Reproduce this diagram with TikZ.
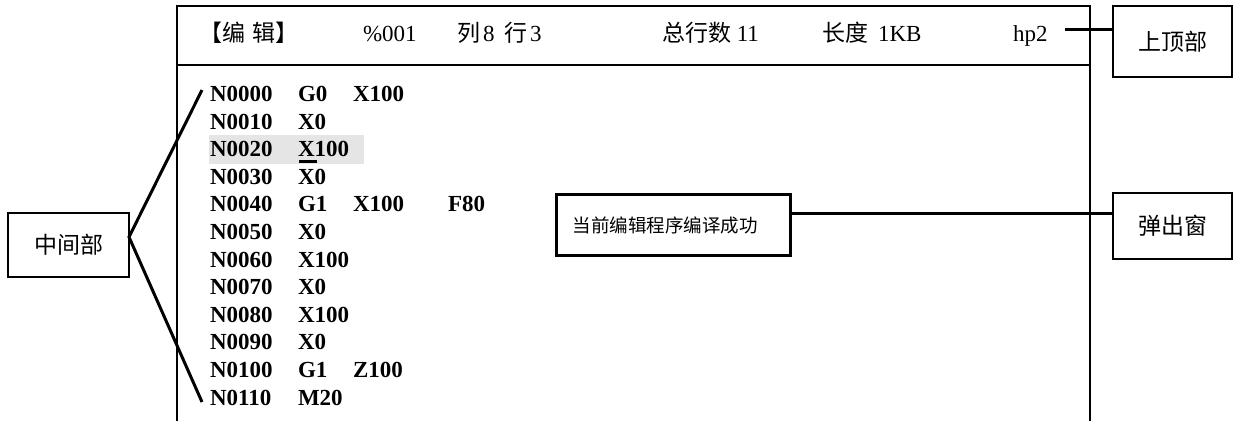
\documentclass[tikz,border=0pt]{standalone}
\usepackage{fontspec}
\setmainfont{Liberation Serif}
\newfontfamily\cjk{Noto Sans CJK SC}
\begin{document}
\begin{tikzpicture}[x=1pt,y=-1pt,
  every node/.style={inner sep=0pt,outer sep=0pt},
  frameline/.style={line width=1.5pt},
  link/.style={line width=3pt},
  hdr/.style={anchor=base west,font=\fontsize{23}{27}\selectfont},
  codetxt/.style={anchor=base west,font=\fontsize{23}{27}\selectfont\bfseries},
  labelbox/.style={draw,line width=1.5pt,font=\cjk\fontsize{23}{27}\selectfont},
  popupbox/.style={draw,line width=3pt,anchor=north west,font=\cjk\fontsize{18.5}{22}\selectfont,
     inner xsep=16pt,text width=202pt,align=left,minimum height=61pt}]
\useasboundingbox (0,0) rectangle (1233,421);
% highlight of current line
\fill[black!10] (209,135) rectangle (364,164);
% frame of the screen
\draw[frameline] (177,421) -- (177,6) -- (1090,6) -- (1090,421);
\draw[frameline] (177,65) -- (1090,65);
% header texts
\node[hdr] (h1) at (199,41) {\cjk 【编\hspace{8pt}辑】};
\node[hdr] (h2) at (363,41) {\%001};
\node[hdr] (h3) at (457,41) {{\cjk 列}\hspace{3pt}8};
\node[hdr] (h4) at (504,41) {{\cjk 行}\hspace{3pt}3};
\node[hdr] (h5) at (662,41) {{\cjk 总行数} 11};
\node[hdr] (h6) at (822,41) {{\cjk 长度}\hspace{10pt}1KB};
\node[hdr] (h7) at (1013,41) {hp2};
% code lines
\foreach \i/\n/\g in {0/N0000/G0,1/N0010/X0,2/N0020/X100,3/N0030/X0,4/N0040/G1,5/N0050/X0,
  6/N0060/X100,7/N0070/X0,8/N0080/X100,9/N0090/X0,10/N0100/G1,11/N0110/M20}{
  \node[codetxt] (n\i) at (210,101.5+27.6*\i) {\n};
  \node[codetxt] (g\i) at (298,101.5+27.6*\i) {\g};
}
\node[codetxt] (x0) at (353,101.5) {X100};
\node[codetxt] (x4) at (353,211.9) {X100};
\node[codetxt] (f4) at (448,211.9) {F80};
\node[codetxt] (z10) at (353,377.5) {Z100};
\fill (299,159.5) rectangle (316.5,163);
% labels
\node[labelbox,minimum width=121pt,minimum height=64pt] (mid) at (68.5,245) {中间部};
\node[labelbox,minimum width=119pt,minimum height=71pt] (top) at (1172.5,41.5) {上顶部};
\node[labelbox,minimum width=119pt,minimum height=66pt] (win) at (1172.5,226) {弹出窗};
\node[popupbox] (pop) at (556.5,194.5) {当前编辑程序编译成功};
% connectors
\coordinate (hpend) at (1065,29);
\draw[link] (hpend) -- (hpend -| top.west);
\coordinate (pc) at (pop.east |- 0,213);
\draw[link] (pc) -- (pc -| win.west);
\coordinate (mj) at (mid.east |- 0,237);
\coordinate (mt) at (202,90);
\coordinate (mb) at (202,402);
\draw[link] (mt) -- (mj) -- (mb);
\end{tikzpicture}
\end{document}
